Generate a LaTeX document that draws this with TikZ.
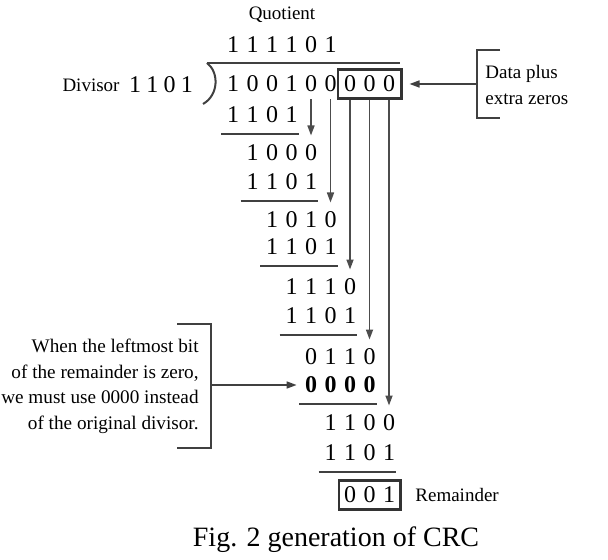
\documentclass[tikz,border=0pt]{standalone}
\usepackage{fontspec}
\setmainfont{Liberation Serif}
\usetikzlibrary{arrows.meta,calc,fit}

\tikzset{
  digit/.style={inner sep=0pt,font=\fontsize{12}{14}\selectfont},
  lbl/.style={inner sep=0pt,font=\fontsize{9.5}{13}\selectfont},
  rule/.style={line width=0.9pt,black!75},
  bitline/.style={->,line width=0.8pt,black!70,shorten <=3.5pt,shorten >=4.5pt},
  numbox/.style={draw,line width=1.1pt,black!80,inner sep=3pt},
  brk/.style={line width=0.8pt,black!75},
  >={Triangle[length=5pt,width=3.5pt]}
}

\begin{document}
\begin{tikzpicture}[x=0.5pt,y=-0.5pt]
	\useasboundingbox (0,0) rectangle (608,560);
	
	%quotient
	\node[lbl] (quot) at (282,15) {Quotient};
	\foreach \b [count=\i] in {1,1,1,1,0,1}
		\node[digit] (q\i) at ({233+19.5*(\i-1)},45) {\b};
	
	%divisor and dividend
	\node[lbl] (divlbl) at (91,85) {Divisor};
	\foreach \b [count=\i] in {1,1,0,1}
		\node[digit] (v\i) at ({135+17.3*(\i-1)},85) {\b};
	\foreach \b [count=\i] in {1,0,0,1,0,0,0,0,0}
		\node[digit] (d\i) at ({233+19.5*(\i-1)},84) {\b};
	\draw[rule,line width=1pt] (207,63) -- (400,63);
	\draw[rule,line width=1pt] (207,63) .. controls (219,72) and (219,95) .. (203,104);
	
	%partial remainders
	\foreach \y/\st/\bits in {115/1/{1,1,0,1}, 153/2/{1,0,0,0}, 182/2/{1,1,0,1},
		220/3/{1,0,1,0}, 247/3/{1,1,0,1}, 287/4/{1,1,1,0}, 316/4/{1,1,0,1},
		357/5/{0,1,1,0}, 423/6/{1,1,0,0}, 453/6/{1,1,0,1}, 495/7/{0,0,1}}
		\foreach \b [count=\k] in \bits {
			\pgfmathtruncatemacro{\col}{\st+\k-1}
			\node[digit] (r\y c\col) at ({233+19.5*(\col-1)},\y) {\b};
		}
	\foreach \b [count=\k] in {0,0,0,0} {
		\pgfmathtruncatemacro{\col}{4+\k}
		\node[digit,font=\fontsize{12}{14}\selectfont\bfseries] (r385c\col) at ({233+19.5*(\col-1)},385) {\b};
	}
	
	%subtraction lines
	\foreach \s/\e in {r115c1/r115c4, r182c2/r182c5, r247c3/r247c6,
		r316c4/r316c7, r385c5/r385c8, r453c6/r453c9}
		\draw[rule] ($(\s)+(-12,19)$) -- ($(\e)+(7,19)$);
	
	%bits brought down
	\foreach \i/\t in {5/r153c5, 6/r220c6, 7/r287c7, 8/r357c8, 9/r423c9}
		\draw[bitline] (d\i.south) -- (\t.north);
	
	\node[numbox,fit=(d7)(d9)] (ext) {};
	\node[numbox,fit=(r495c7)(r495c9),inner xsep=2.5pt] (rem) {};
	\node[lbl,anchor=west] (remlbl) at (415,495) {Remainder};
	
	%data plus extra zeros
	\draw[brk] (500,50) -- (477,50) -- (477,118) -- (500,118);
	\coordinate (rb) at (477,84);
	\draw[->,line width=0.8pt,black!75,shorten >=3.5pt] (rb) -- (ext.east);
	\node[lbl,anchor=west,align=left] (datalbl) at (485,85) {Data plus\\extra zeros};
	
	%note on the zero divisor
	\draw[brk] (177,324) -- (211,324) -- (211,448) -- (177,448);
	\coordinate (lb) at (211,385);
	\draw[->,line width=0.8pt,black!75,shorten >=4pt] (lb) -- (r385c5.west);
	\node[lbl,anchor=east,align=right,font=\fontsize{9.6}{12.8}\selectfont] (note) at (199,386.5)
		{When the leftmost bit\\of the remainder is zero,\\we must use 0000 instead\\of the original divisor.};
	
	\node[anchor=base,font=\fontsize{14}{16}\selectfont] (cap) at (336,546) {Fig. 2 generation of CRC};
\end{tikzpicture}
\end{document}
